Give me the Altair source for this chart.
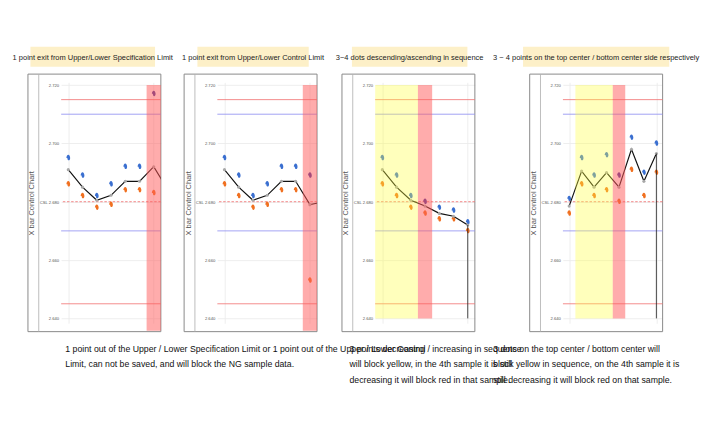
import altair as alt
import pandas as pd

# chart values
titles = ["1 point exit from Upper/Lower Specification Limit",
          "1 point exit from Upper/Lower Control Limit",
          "3~4 dots descending/ascending in sequence",
          "3 ~ 4 points on the top center / bottom center side respectively"]
upper = [[2.695, 2.689, 2.682, 2.686, 2.692, 2.692, 2.717],
         [2.695, 2.689, 2.682, 2.686, 2.692, 2.692, 2.689],
         [2.695, 2.689, 2.682, 2.680, 2.678, 2.677, 2.673],
         [2.681, 2.695, 2.689, 2.696, 2.689, 2.702, 2.690, 2.700]]
lower = [[2.686, 2.682, 2.678, 2.679, 2.684, 2.684, 2.683],
         [2.686, 2.682, 2.678, 2.679, 2.684, 2.684, 2.653],
         [2.686, 2.682, 2.678, 2.676, 2.674, 2.674, 2.670],
         [2.676, 2.686, 2.682, 2.684, 2.680, 2.691, 2.682, 2.690]]
mean = [[2.691, 2.685, 2.6805, 2.6822, 2.687, 2.687, 2.692, 2.684],
        [2.691, 2.685, 2.6805, 2.6822, 2.687, 2.687, 2.679, 2.680],
        [2.691, 2.685, 2.6805, 2.6785, 2.676, 2.675, 2.672],
        [2.6785, 2.6905, 2.685, 2.690, 2.685, 2.698, 2.687, 2.6965]]
ng_sample = [7, 7, 4, 5]
yellow = [None, None, (1, 3), (2, 4)]
n_samples = [7, 7, 7, 8]
limits = [("USL", 2.715, "#F07070", []), ("UCL", 2.710, "#8C8CF0", []),
          ("CSL", 2.680, "#F07070", [3, 2]), ("LCL", 2.670, "#8C8CF0", []),
          ("LSL", 2.645, "#F07070", [])]
captions = [["1 point out of the Upper / Lower Specification Limit or 1 point out of the Upper / Lower Control",
             "Limit, can not be saved, and will block the NG sample data."],
            ["3 points decreasing / increasing in sequence",
             "will block yellow, in the 4th sample it is still",
             "decreasing it will block red in that sample."],
            ["3 dots on the top center / bottom center will",
             "block yellow in sequence, on the 4th sample it is",
             "still decreasing it will block red on that sample."]]

FONT = "Liberation Sans Narrow, Liberation Sans, sans-serif"
W, H = 120, 290
YD = [2.6383, 2.7209]
label_names = {"2.715": "USL ", "2.71": "UCL ", "2.68": "CSL ", "2.67": "LCL ", "2.645": "LSL "}
label_expr = "(" + " : ".join(
    f"format(datum.value, '.3f') == '{float(k):.3f}' ? '{v}'" for k, v in label_names.items()
) + " : '') + format(datum.value, '.3f')"

header_box = [(-37, 113), (-24, 110), (-28, 111), (-48, 128)]


def panel(i):
    n = n_samples[i]
    xs = alt.Scale(domain=[0.5, n + 0.5], nice=False, zero=False)
    ys = alt.Scale(domain=YD, nice=False, zero=False)
    pts = []
    for k, v in enumerate(upper[i]):
        pts.append({"s": k + 1, "v": v, "kind": "ng" if k + 1 == ng_sample[i] else "up"})
    for k, v in enumerate(lower[i]):
        pts.append({"s": k + 1, "v": v, "kind": "low"})
    pdf = pd.DataFrame(pts)
    mdf = pd.DataFrame({"s": list(range(1, len(mean[i]) + 1)), "v": mean[i]})

    base_x = alt.X("s:Q", scale=xs, axis=alt.Axis(labels=False, ticks=False, domain=False,
                                                   title=None, values=list(range(1, n + 1)),
                                                   gridColor="#EBEBEB"))
    frame = alt.Chart(pd.DataFrame({"a": [0]})).mark_rect(
        fill=None, stroke="#8A8A8A", strokeWidth=1.2).encode(
        x=alt.value(-40), x2=alt.value(W), y=alt.value(-10), y2=alt.value(H + 10))
    sep = alt.Chart(pd.DataFrame({"a": [0]})).mark_rule(color="#B0B0B0").encode(
        x=alt.value(-27), y=alt.value(-10), y2=alt.value(H + 10))
    grid = alt.Chart(mdf).mark_point(opacity=0).encode(
        x=base_x,
        y=alt.Y("v:Q", scale=ys, axis=alt.Axis(
            values=[round(2.640 + 0.005 * j, 3) for j in range(17)], labelExpr=label_expr,
            labelOverlap=False, labelFontSize=5, labelColor="#555", labelFont=FONT,
            ticks=False, domain=False, labelPadding=3,
            gridColor="#EBEBEB", title="X bar Control Chart", titleFontSize=9,
            titleColor="#555", titleFontWeight="normal", titlePadding=4)))
    lim = pd.DataFrame([{"name": a, "v": b, "c": c} for a, b, c, d in limits if not d])
    lim_lines = alt.Chart(lim).mark_rule(strokeWidth=1.2, opacity=0.8).encode(
        y=alt.Y("v:Q", scale=ys), color=alt.Color("c:N", scale=None))
    csl = alt.Chart(pd.DataFrame({"v": [2.680]})).mark_rule(
        strokeWidth=1, strokeDash=[3, 2], color="#F07070").encode(y=alt.Y("v:Q", scale=ys))
    dots = alt.Chart(pdf).mark_point(filled=True, size=14, opacity=1, shape="M-0.6,0A0.6,1 0 1,0 1.2,0A0.6,1 0 1,0 -1.2,0").encode(
        x=alt.X("s:Q", scale=xs), y=alt.Y("v:Q", scale=ys),
        color=alt.Color("kind:N", scale=alt.Scale(domain=["up", "low", "ng"],
                                                  range=["#3A6FD0", "#F07020", "#4A3A9A"]),
                        legend=None))
    line = alt.Chart(mdf).mark_line(color="#111", strokeWidth=1.4, clip=True,
                                    point=alt.OverlayMarkDef(color="#A8A8A8", size=14, filled=True)).encode(
        x=alt.X("s:Q", scale=xs), y=alt.Y("v:Q", scale=ys))
    layers = [frame, sep, grid, lim_lines, csl, dots, line]
    if yellow[i]:
        a, b = yellow[i]
        ydf = pd.DataFrame({"x": [a - 0.5], "x2": [b + 0.5], "y": [2.640], "y2": [2.720]})
        layers.append(alt.Chart(ydf).mark_rect(color="#FFFF40", opacity=0.35).encode(
            x=alt.X("x:Q", scale=xs), x2="x2:Q", y=alt.Y("y:Q", scale=ys), y2="y2:Q"))
        rdf = pd.DataFrame({"x": [ng_sample[i] - 0.5], "x2": [ng_sample[i] + 0.5],
                            "y": [2.640], "y2": [2.720]})
        vdf = pd.DataFrame({"s": [len(mean[i])], "v": [mean[i][-1]], "v2": [2.640]})
        layers.append(alt.Chart(vdf).mark_rule(color="#222", strokeWidth=1).encode(
            x=alt.X("s:Q", scale=xs), y=alt.Y("v:Q", scale=ys), y2="v2:Q"))
    else:
        rdf = pd.DataFrame({"x": [ng_sample[i] - 0.5], "x2": [ng_sample[i] + 0.5],
                            "y": [YD[0] - 0.0025], "y2": [2.720]})
    layers.append(alt.Chart(rdf).mark_rect(color="#FF5A5A", opacity=0.5, clip=False).encode(
        x=alt.X("x:Q", scale=xs), x2="x2:Q", y=alt.Y("y:Q", scale=ys), y2="y2:Q"))
    body = alt.layer(*layers).properties(width=W, height=H)

    x0, x1 = header_box[i]
    head = alt.layer(
        alt.Chart(pd.DataFrame({"a": [0]})).mark_rect(color="#FDF0C8").encode(
            x=alt.value(x0), x2=alt.value(x1), y=alt.value(0), y2=alt.value(24)),
        alt.Chart(pd.DataFrame({"t": [titles[i]]})).mark_text(
            font=FONT, fontSize=9, color="#222").encode(
            x=alt.value((x0 + x1) / 2), y=alt.value(13), text="t:N")
    ).properties(width=W, height=24)
    return alt.vconcat(head, body, spacing=8)


top = alt.hconcat(*[panel(i) for i in range(4)], spacing=10)

cap_rows = []
for j, line in enumerate(captions[0]):
    cap_rows.append({"t": line, "x": 5, "y": 10 + 19 * j})
for j, line in enumerate(captions[1]):
    cap_rows.append({"t": line, "x": 347, "y": 10 + 19 * j})
for j, line in enumerate(captions[2]):
    cap_rows.append({"t": line, "x": 520, "y": 10 + 19 * j})
bottom = alt.Chart(pd.DataFrame(cap_rows)).mark_text(
    font=FONT, fontSize=10.5, align="left", color="#111").encode(
    x=alt.X("x:Q", scale=alt.Scale(domain=[0, 640], nice=False), axis=None),
    y=alt.Y("y:Q", scale=alt.Scale(domain=[0, 60], nice=False, reverse=True), axis=None),
    text="t:N").properties(width=640, height=60)

chart = alt.vconcat(top, bottom, spacing=10).configure_view(stroke=None).properties(
    padding={"left": 5, "top": 4, "right": 0, "bottom": 0})

chart.save("out.html", embed_options={"renderer": "svg", "actions": False})
